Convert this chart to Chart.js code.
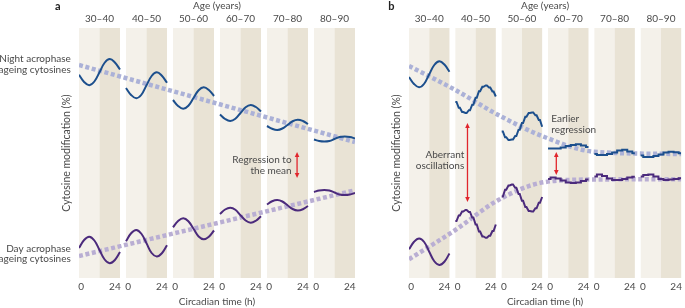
<!DOCTYPE html>
<html><head><meta charset="utf-8">
<script src="https://cdn.jsdelivr.net/npm/chart.js@4"></script>
<style>
html,body{margin:0;padding:0;background:#fff;}
#wrap{position:relative;width:685px;height:308px;overflow:hidden;background:#fff;}
#ca{position:absolute;left:0;top:0;}
#cb{position:absolute;left:360px;top:0;}
</style></head><body>
<div id="wrap"><canvas id="ca" width="360" height="308"></canvas><canvas id="cb" width="325" height="308"></canvas></div>
<script>
// ---------- data ----------
const ageGroups = ['30–40', '40–50', '50–60', '60–70', '70–80', '80–90'];
const tickLabels = ['0', '24'];
const hours3 = [0, 3, 6, 9, 12, 15, 18, 21, 24];
const hours2 = [0, 2, 4, 6, 8, 10, 12, 14, 16, 18, 20, 22, 24];

// panel a: night acrophase ageing cytosines (cytosine modification, %)
const nightA = [
  [81.3, 78.4, 77.1, 78.6, 82.3, 86.1, 87.6, 86.2, 83.4],
  [76.0, 73.2, 71.9, 73.3, 77.1, 80.8, 82.3, 80.9, 78.1],
  [71.2, 68.8, 67.7, 68.9, 72.0, 75.1, 76.3, 75.2, 72.8],
  [65.4, 63.6, 62.8, 63.7, 66.0, 68.3, 69.2, 68.4, 66.6],
  [60.8, 59.7, 59.2, 59.8, 61.2, 62.7, 63.3, 62.8, 61.6],
  [55.4, 54.8, 54.6, 54.8, 55.6, 56.4, 56.6, 56.4, 55.8]
];
// panel a: day acrophase ageing cytosines
const dayA = [
  [12.0, 15.2, 16.5, 15.0, 11.2, 7.4, 5.9, 7.2, 10.4],
  [14.7, 17.9, 19.2, 17.7, 13.9, 10.0, 8.6, 9.9, 13.1],
  [20.3, 22.8, 23.9, 22.7, 19.7, 16.6, 15.5, 16.5, 19.0],
  [25.6, 27.4, 28.1, 27.3, 25.1, 23.0, 22.1, 22.9, 24.7],
  [29.4, 30.7, 31.2, 30.6, 29.1, 27.6, 27.0, 27.5, 28.8],
  [34.4, 35.0, 35.2, 35.0, 34.2, 33.4, 33.2, 33.4, 34.0]
];
const trendAx = [0, 161.5];
const trendNightA = [85.2, 54.4];
const trendDayA = [8.8, 35.1];

// panel b
const nightB = [
  [80.4, 77.6, 76.3, 77.7, 81.5, 85.2, 86.7, 85.4, 82.5],
  [70.4, 68.1, 66.4, 66.0, 67.1, 69.3, 72.1, 74.7, 76.5, 77.0, 76.2, 74.6, 72.6],
  [58.6, 56.3, 55.2, 55.4, 56.8, 59.3, 62.0, 64.5, 66.0, 66.2, 65.1, 63.2, 60.5],
  [51.8, 51.8, 51.8, 52.2, 52.8, 53.2, 53.5, 53.0, 52.4],
  [49.6, 49.2, 49.2, 49.6, 50.2, 51.0, 51.3, 50.6, 49.9],
  [49.0, 48.4, 48.4, 48.8, 49.4, 50.2, 50.5, 50.3, 49.9]
];
const dayB = [
  [11.5, 14.5, 15.8, 14.4, 10.5, 6.7, 5.2, 6.5, 9.8],
  [22.8, 25.0, 26.6, 27.2, 26.4, 24.2, 21.4, 18.6, 16.6, 16.1, 16.9, 18.8, 21.4],
  [32.6, 35.3, 37.0, 37.4, 36.1, 33.6, 30.9, 28.4, 26.8, 26.6, 27.9, 30.1, 32.4],
  [39.6, 40.2, 39.8, 39.0, 38.2, 38.0, 38.2, 38.8, 39.4],
  [40.6, 41.4, 40.8, 39.8, 39.2, 39.2, 39.6, 40.2, 40.5],
  [40.6, 41.2, 41.4, 40.6, 39.6, 39.2, 39.4, 39.6, 39.9]
];
const trendBx = [0, 27.5, 53, 80, 110, 161.5];
const trendNightB = [84.8, 75.2, 65.2, 56.5, 50.5, 49.6];
const trendDayB = [7.5, 19.2, 31.2, 38.3, 39.4, 39.5];

// ---------- layout / style ----------
const colStep = 27.5, colSpan = 24, halfDay = 12;
const xMax = 5 * colStep + colSpan;
const kindsA = ['smooth', 'smooth', 'smooth', 'smooth', 'smooth', 'smooth'];
const kindsB = ['smooth', 'jagged', 'jagged', 'stepped', 'stepped', 'stepped'];
const FONT = 'Lato';
const TXT = '#4a4a4a';
const BLUE = '#1c4f8d', PURPLE = '#4b2a7c', RED = '#e1262d';
const TREND_NIGHT = '#abb1d7', TREND_DAY = '#b9aed3';

function curveSets(series, kinds, color) {
  return series.map((vals, k) => {
    const hrs = vals.length === hours2.length ? hours2 : hours3;
    const kind = kinds[k];
    let pts = [];
    if (kind === 'jagged') {
      vals.forEach((v, i) => {
        pts.push({x: k * colStep + hrs[i], y: v});
        if (i < vals.length - 1) pts.push({x: k * colStep + hrs[i] + 0.7, y: v});
      });
    } else {
      pts = vals.map((v, i) => ({x: k * colStep + hrs[i], y: v}));
    }
    return {data: pts, borderColor: color, borderWidth: 2, pointRadius: 0, fill: false,
      tension: kind === 'smooth' ? 0.4 : 0, stepped: kind === 'stepped' ? 'middle' : false,
      borderJoinStyle: 'miter', order: 0};
  });
}
function trendSet(xs, ys, color) {
  return {data: xs.map((x, i) => ({x, y: ys[i]})), borderColor: color, borderWidth: 4.5,
    borderDash: [4, 2.6], borderCapStyle: 'butt', pointRadius: 0, fill: false,
    cubicInterpolationMode: 'monotone', order: 1};
}

const decor = {
  id: 'decor',
  beforeDatasetsDraw(chart) {
    const {ctx, chartArea: ca, scales: {x}} = chart;
    ctx.save();
    ageGroups.forEach((g, k) => {
      const x0 = x.getPixelForValue(k * colStep);
      const xm = x.getPixelForValue(k * colStep + halfDay);
      const x1 = x.getPixelForValue(k * colStep + colSpan);
      ctx.fillStyle = '#f4f1ea';
      ctx.fillRect(x0, ca.top, xm - x0, ca.bottom - ca.top);
      ctx.fillStyle = '#e9e3d5';
      ctx.fillRect(xm, ca.top, x1 - xm, ca.bottom - ca.top);
    });
    ctx.restore();
  },
  afterDatasetsDraw(chart, args, o) {
    const {ctx, scales: {x, y}} = chart;
    ctx.save();
    // panel letter
    ctx.fillStyle = '#222';
    ctx.font = 'bold 11px ' + FONT;
    ctx.textAlign = 'left'; ctx.textBaseline = 'middle';
    ctx.fillText(o.letter[0], x.getPixelForValue(o.letter[1]), y.getPixelForValue(o.letter[2]));
    // texts
    ctx.fillStyle = TXT;
    ctx.font = '10px ' + FONT;
    (o.texts || []).forEach(t => {
      ctx.textAlign = t.align;
      ctx.fillText(t.text, x.getPixelForValue(t.x), y.getPixelForValue(t.y));
    });
    // arrows
    (o.arrows || []).forEach(a => {
      const px = x.getPixelForValue(a.x);
      const y0 = y.getPixelForValue(a.y0), y1 = y.getPixelForValue(a.y1);
      const h = 5, w = 2.3;
      ctx.strokeStyle = RED; ctx.fillStyle = RED; ctx.lineWidth = 1.3;
      ctx.beginPath(); ctx.moveTo(px, y0 + h - 1); ctx.lineTo(px, y1 - h + 1); ctx.stroke();
      ctx.beginPath(); ctx.moveTo(px, y0); ctx.lineTo(px - w, y0 + h); ctx.lineTo(px + w, y0 + h); ctx.closePath(); ctx.fill();
      ctx.beginPath(); ctx.moveTo(px, y1); ctx.lineTo(px - w, y1 - h); ctx.lineTo(px + w, y1 - h); ctx.closePath(); ctx.fill();
    });
    ctx.restore();
  }
};

function makeChart(id, datasets, padLeft, padRight, decorOpts) {
  const yW = 18.3;
  return new Chart(document.getElementById(id), {
    type: 'line',
    data: {datasets},
    plugins: [decor],
    options: {
      responsive: false, animation: false, devicePixelRatio: 1,
      layout: {padding: {left: padLeft, right: padRight, top: 0, bottom: 0}},
      plugins: {legend: {display: false}, tooltip: {enabled: false}, decor: decorOpts},
      scales: {
        x: {
          type: 'linear', position: 'bottom', min: 0, max: xMax,
          afterBuildTicks: s => {
            const t = [];
            ageGroups.forEach((g, k) => { t.push({value: k * colStep + 1.3}); t.push({value: k * colStep + 21}); });
            s.ticks = t;
          },
          afterFit: s => { s.height = 30; },
          ticks: {autoSkip: false, maxRotation: 0, padding: 3, color: TXT, font: {family: FONT, size: 10},
            callback: (v, i) => tickLabels[i % 2]},
          grid: {display: false, drawTicks: false}, border: {display: false},
          title: {display: true, text: 'Circadian time (h)', color: TXT, font: {family: FONT, size: 10}, padding: {top: 0, bottom: 0}}
        },
        x2: {
          type: 'linear', position: 'top', min: 0, max: xMax,
          afterBuildTicks: s => { s.ticks = ageGroups.map((g, k) => ({value: k * colStep + colSpan / 2})); },
          afterFit: s => { s.height = 28; },
          ticks: {autoSkip: false, maxRotation: 0, padding: 3, color: TXT, font: {family: FONT, size: 10},
            callback: (v, i) => ageGroups[i]},
          grid: {display: false, drawTicks: false}, border: {display: false},
          title: {display: true, text: 'Age (years)', color: TXT, font: {family: FONT, size: 10}, padding: {top: 0, bottom: 0}}
        },
        y: {
          type: 'linear', min: 0, max: 100,
          afterFit: s => { s.width = yW; },
          ticks: {display: false}, grid: {display: false, drawTicks: false}, border: {display: false},
          title: {display: true, text: 'Cytosine modification (%)', color: TXT, font: {family: FONT, size: 10.5}, padding: {top: 0, bottom: 0}}
        }
      }
    }
  });
}

makeChart('ca', [
  ...curveSets(nightA, kindsA, BLUE),
  ...curveSets(dayA, kindsA, PURPLE),
  trendSet(trendAx, trendNightA, TREND_NIGHT),
  trendSet(trendAx, trendDayA, TREND_DAY)
], 60.7, 5, {
  letter: ['a', -14, 108.8],
  texts: [
    {text: 'Night acrophase', x: -4.8, y: 87.6, align: 'right'},
    {text: 'ageing cytosines', x: -4.8, y: 83.2, align: 'right'},
    {text: 'Day acrophase', x: -4.8, y: 11.6, align: 'right'},
    {text: 'ageing cytosines', x: -4.8, y: 7.6, align: 'right'},
    {text: 'Regression to', x: 124.4, y: 47.2, align: 'right'},
    {text: 'the mean', x: 124.4, y: 42.8, align: 'right'}
  ],
  arrows: [{x: 127.6, y0: 50.4, y1: 40.0}]
});

makeChart('cb', [
  ...curveSets(nightB, kindsB, BLUE),
  ...curveSets(dayB, kindsB, PURPLE),
  trendSet(trendBx, trendNightB, TREND_NIGHT),
  trendSet(trendBx, trendDayB, TREND_DAY)
], 30.7, 0, {
  letter: ['b', -12.3, 108.8],
  texts: [
    {text: 'Aberrant', x: 32.8, y: 49.2, align: 'right'},
    {text: 'oscillations', x: 32.8, y: 44.9, align: 'right'},
    {text: 'Earlier', x: 84.4, y: 63.6, align: 'left'},
    {text: 'regression', x: 84.4, y: 59.2, align: 'left'}
  ],
  arrows: [{x: 34.7, y0: 62.0, y1: 30.4}, {x: 87.4, y0: 50.4, y1: 41.2}]
});
</script>
</body></html>
